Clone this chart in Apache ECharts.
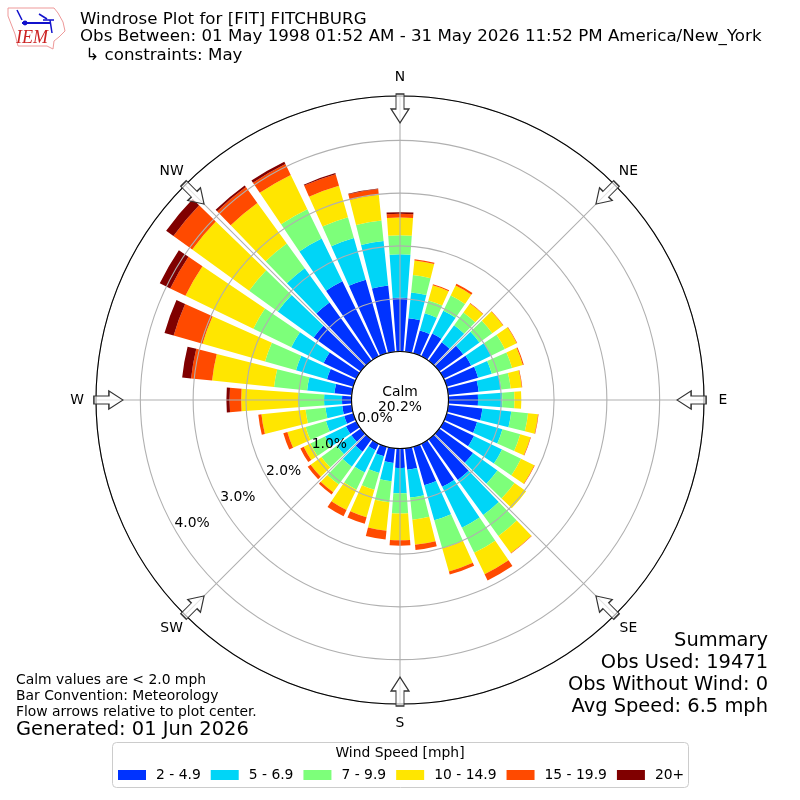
<!DOCTYPE html>
<html><head><meta charset="utf-8">
<style>html,body{margin:0;padding:0;background:#fff}#c{width:800px;height:800px}</style>
<script src="https://cdn.jsdelivr.net/npm/echarts@6/dist/echarts.min.js"></script>
</head><body><div id="c"></div>
<script>
const directions = ['0','10','20','30','40','50','60','70','80','90','100','110','120','130','140','150','160','170','180','190','200','210','220','230','240','250','260','270','280','290','300','310','320','330','340','350'];
const speedNames = ['2 - 4.9','5 - 6.9','7 - 9.9','10 - 14.9','15 - 19.9','20+'];
const speedColors = ['#0033ff','#00d5f7','#7dff7a','#ffe600','#ff4a00','#800000'];
const speed2to5 = [1.02,.64,.45,.48,.43,.56,.58,.62,.58,.56,.65,.60,.64,.79,.95,.91,.76,.41,.37,.28,.19,.14,.29,.22,.22,.18,.18,.18,.33,.52,.69,1.10,1.36,1.58,1.45,1.26];
const speed5to7 = [.82,.49,.34,.48,.40,.38,.42,.27,.43,.46,.55,.50,.59,.57,.82,.86,.69,.53,.48,.35,.33,.47,.35,.34,.44,.36,.32,.34,.52,.61,.68,.84,.80,.90,.82,.85];
const speed7to10 = [.36,.33,.25,.32,.30,.30,.29,.40,.18,.23,.32,.35,.40,.40,.49,.53,.55,.42,.38,.40,.33,.36,.42,.36,.31,.40,.38,.49,.63,.61,.80,.67,.58,.62,.41,.39];
const speed10to15 = [.34,.28,.30,.21,.21,.25,.25,.21,.21,.13,.19,.20,.28,.27,.40,.45,.46,.48,.51,.54,.54,.43,.18,.25,.14,.36,.84,1.08,1.18,1.23,1.43,1.33,.95,.72,.62,.49];
const speed15to20 = [.07,.02,.02,.04,.01,.01,.01,.02,.01,0,.01,.01,.01,0,.01,.13,.06,.10,.10,.17,.13,.13,.05,.07,.07,.08,.06,.22,.40,.57,.32,.44,.37,.23,.23,.11];
const speed20plus = [.03,0,0,0,0,0,0,0,0,0,0,0,0,0,0,0,0,0,0,0,0,0,0,0,0,0,0,.06,.17,.18,.22,.17,.04,.05,.02,.01];
const speedValues = [speed2to5,speed5to7,speed7to10,speed10to15,speed15to20,speed20plus];
const compassNames = ['N','NE','E','SE','S','SW','W','NW'];
const compassAngles = [0,45,90,135,180,225,270,315];
const radialTicks = [0,1,2,3,4];
const radialLabelAngle = 240;
const axisMax = 4.84, arrowRadius = 4.59, compassLabelRadius = 5.2;
const titleLines = ['Windrose Plot for [FIT] FITCHBURG','Obs Between: 01 May 1998 01:52 AM - 31 May 2026 11:52 PM America/New_York',' ↳ constraints: May'];
const summaryLines = ['Summary','Obs Used: 19471','Obs Without Wind: 0','Avg Speed: 6.5 mph'];
const noteLines = ['Calm values are < 2.0 mph','Bar Convention: Meteorology','Flow arrows relative to plot center.'];
const generated = 'Generated: 01 Jun 2026';
const calm = ['Calm','20.2%'];
const legendTitle = 'Wind Speed [mph]';

const FONT = 'DejaVu Sans';
const chart = echarts.init(document.getElementById('c'), null, {renderer:'canvas'});
const txt = (x,y,text,size,align,extra) => ({type:'text',x,y,z:100,style:Object.assign({text,font:size+'px "'+FONT+'"',fill:'#000',textAlign:align||'left',textVerticalAlign:'middle'},extra||{})});
const graphic = [];
[20,37,56].forEach((y,i)=>graphic.push(txt(80,y,titleLines[i],16.67)));
[641,663,685,707].forEach((y,i)=>graphic.push(txt(768,y,summaryLines[i],19.44,'right')));
[680,696,712].forEach((y,i)=>graphic.push(txt(16,y,noteLines[i],13.89)));
graphic.push(txt(16,730,generated,19.44));
graphic.push(txt(400,392,calm[0],13.89,'center'));
graphic.push(txt(400,407,calm[1],13.89,'center'));
graphic.push({type:'rect',z:1,shape:{x:112.5,y:742.5,width:576,height:45,r:4},style:{fill:'#fff',stroke:'#ccc',lineWidth:1}});
graphic.push(txt(400,753,legendTitle,13.89,'center'));
// logo
graphic.push({type:'polyline',z:100,shape:{points:[[8,8],[54,8],[58,13],[63,22],[65,31],[59,37],[54,41],[53,49],[47,46],[18,46],[15,34],[8,16],[8,8]]},style:{fill:'none',stroke:'#ee9999',lineWidth:1}});
[[[22,23],[50,23]],[[17,10],[22,20]],[[39,14],[47,19]],[[50,20],[52,33]],[[43,20],[54,20]]].forEach((p,i)=>graphic.push({type:'polyline',z:100,shape:{points:p},style:{fill:'none',stroke:'#11c',lineWidth:i===0?2:1.5}}));
graphic.push({type:'circle',z:100,shape:{cx:25,cy:23,r:2.4},style:{fill:'#11c'}});
graphic.push({type:'text',x:16,y:29,z:100,style:{text:'IEM',font:'italic 18px "Liberation Serif"',fill:'#c22'}});

const barSeries = speedNames.map((name,i)=>({
  name,type:'bar',coordinateSystem:'polar',polarIndex:0,stack:'wind',
  data:speedValues[i],barCategoryGap:'18%',z:2,
  itemStyle:{color:speedColors[i]},silent:true
}));
const arrows = {type:'scatter',coordinateSystem:'polar',polarIndex:1,clip:false,z:20,silent:true,
  data:compassAngles.map(a=>({value:[arrowRadius+0.015,a],symbolRotate:-a})),
  symbol:'path://M-4 0 L4 0 L4 15 L9 15 L0 29 L-9 15 L-4 15 Z',symbolSize:[18,29],
  itemStyle:{color:'rgba(255,255,255,0.65)',borderColor:'#333',borderWidth:1.2,opacity:1}};
const compassLabels = {type:'scatter',coordinateSystem:'polar',polarIndex:1,clip:false,z:21,silent:true,symbolSize:0,
  itemStyle:{opacity:1},
  data:compassAngles.map((a,i)=>({value:[compassLabelRadius,a],name:compassNames[i]})),
  label:{show:true,position:'inside',formatter:p=>p.name,fontFamily:FONT,fontSize:13.89,color:'#000'}};
const radialLabels = {type:'scatter',coordinateSystem:'polar',polarIndex:1,clip:false,z:21,silent:true,symbolSize:0,
  itemStyle:{opacity:1},
  data:radialTicks.map(t=>({value:[t,radialLabelAngle],name:t.toFixed(1)+'%'})),
  label:{show:true,position:'inside',offset:[17,-6],formatter:p=>p.name,fontFamily:FONT,fontSize:13.89,color:'#000'}};

chart.setOption({
  animation:false,backgroundColor:'#fff',
  polar:[{center:[400,400],radius:[48.5,304]},{center:[400,400],radius:[48.5,304]}],
  angleAxis:[
    {polarIndex:0,type:'category',data:directions,startAngle:95,clockwise:true,boundaryGap:true,show:false},
    {polarIndex:1,type:'value',min:0,max:360,interval:45,startAngle:90,clockwise:true,z:11,
     axisLine:{show:true,lineStyle:{color:'#000',width:1.1}},axisTick:{show:false},axisLabel:{show:false},
     splitLine:{show:true,lineStyle:{color:'#b0b0b0',width:1.1}}}
  ],
  radiusAxis:[
    {polarIndex:0,type:'value',min:0,max:axisMax,show:false},
    {polarIndex:1,type:'value',min:0,max:axisMax,interval:1,z:10,axisLine:{show:false},axisTick:{show:false},axisLabel:{show:false},
     splitLine:{show:true,lineStyle:{color:'#b0b0b0',width:1.1}}}
  ],
  legend:{data:speedNames,left:118,top:768,itemWidth:28,itemHeight:10,itemGap:10,icon:'rect',z:50,selectedMode:false,
    textStyle:{fontFamily:FONT,fontSize:13.89,color:'#000',padding:[0,0,0,5]},padding:0},
  graphic:{elements:graphic},
  series:[...barSeries,arrows,compassLabels,radialLabels]
});
</script></body></html>
